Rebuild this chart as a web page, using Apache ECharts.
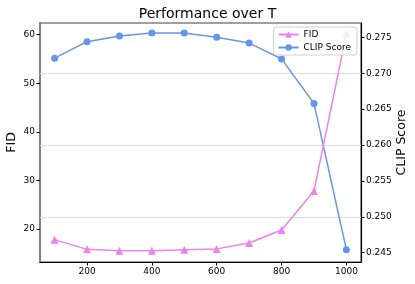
<!DOCTYPE html>
<html><head><meta charset="utf-8">
<script src="https://cdn.jsdelivr.net/npm/echarts@6/dist/echarts.min.js"></script>
<style>html,body{margin:0;padding:0;background:#fff}#c{width:415px;height:284px}</style>
</head><body><div id="c"></div>
<script>
const steps = [100,200,300,400,500,600,700,800,900,1000];
const fid = [17.8,15.8,15.5,15.5,15.7,15.9,17.1,19.8,27.8,60.2];
const clip = [0.2721,0.2744,0.2752,0.2756,0.2756,0.2750,0.2742,0.2720,0.2658,0.2454];
const xTicks = [200,400,600,800,1000];
const fidTicks = [20,30,40,50,60];
const clipTicks = [0.245,0.250,0.255,0.260,0.265,0.270,0.275];
const font = 'DejaVu Sans';
const chart = echarts.init(document.getElementById('c'), null, {renderer:'canvas'});
chart.setOption({
  animation:false,
  textStyle:{fontFamily:font},
  title:{text:'Performance over T', left:'center', top:2, textStyle:{fontFamily:font, fontSize:14, fontWeight:'normal', color:'#000'}},
  grid:{left:40, right:54, top:23, bottom:22, show:true, borderColor:'#808080', borderWidth:1.5, containLabel:false, outerBoundsMode:'none'},
  legend:{right:58, top:27, orient:'vertical', itemWidth:20, itemHeight:8, itemGap:4,
    padding:[3,6,3,4], borderColor:'#d0d0d0', borderWidth:1, borderRadius:3, backgroundColor:'rgba(255,255,255,0.8)',
    textStyle:{fontFamily:font, fontSize:9, color:'#000'}, data:['FID','CLIP Score']},
  xAxis:{type:'value', min:55, max:1045,
    axisLine:{show:true, lineStyle:{color:'#000', width:1.2}},
    axisTick:{show:true, customValues:xTicks, length:3.5, lineStyle:{color:'#000'}},
    axisLabel:{customValues:xTicks, fontFamily:font, fontSize:9, color:'#000', margin:5, formatter:v=>String(v)},
    splitLine:{show:false}},
  yAxis:[
    {type:'value', min:13.2, max:62.4, position:'left', name:'FID', nameLocation:'middle', nameGap:21.5, nameRotate:90, nameMoveOverlap:false,
     nameTextStyle:{fontFamily:font, fontSize:12.5, color:'#000'},
     axisLine:{show:true, lineStyle:{color:'#808080', width:2}},
     axisTick:{show:true, customValues:fidTicks, length:3.5, lineStyle:{color:'#000'}},
     axisLabel:{customValues:fidTicks, fontFamily:font, fontSize:9, color:'#000', margin:5},
     splitLine:{show:false}},
    {type:'value', min:0.2437, max:0.2770, position:'right', name:'CLIP Score', nameLocation:'middle', nameGap:34, nameRotate:90, nameMoveOverlap:false,
     nameTextStyle:{fontFamily:font, fontSize:12.5, color:'#000'},
     axisLine:{show:true, lineStyle:{color:'#000', width:1.2}},
     axisTick:{show:true, customValues:clipTicks, length:3.5, lineStyle:{color:'#000'}},
     axisLabel:{customValues:clipTicks, fontFamily:font, fontSize:9, color:'#000', margin:5, formatter:v=>v.toFixed(3)},
     splitLine:{show:false}}
  ],
  series:[
    {name:'CLIP Score', type:'line', yAxisIndex:1, data:steps.map((s,i)=>[s,clip[i]]),
     symbol:'circle', symbolSize:7, color:'#6495ED', lineStyle:{width:1.5}, z:2,
     markLine:{silent:true, symbol:'none', label:{show:false}, lineStyle:{color:'#dddddd', width:1, type:'solid'}, z:1,
       data:clipTicks.map(v=>({yAxis:v}))}},
    {name:'FID', type:'line', yAxisIndex:0, data:steps.map((s,i)=>[s,fid[i]]),
     symbol:'triangle', symbolSize:8, color:'#EE82EE', lineStyle:{width:1.5}, z:3}
  ]
});
</script></body></html>
